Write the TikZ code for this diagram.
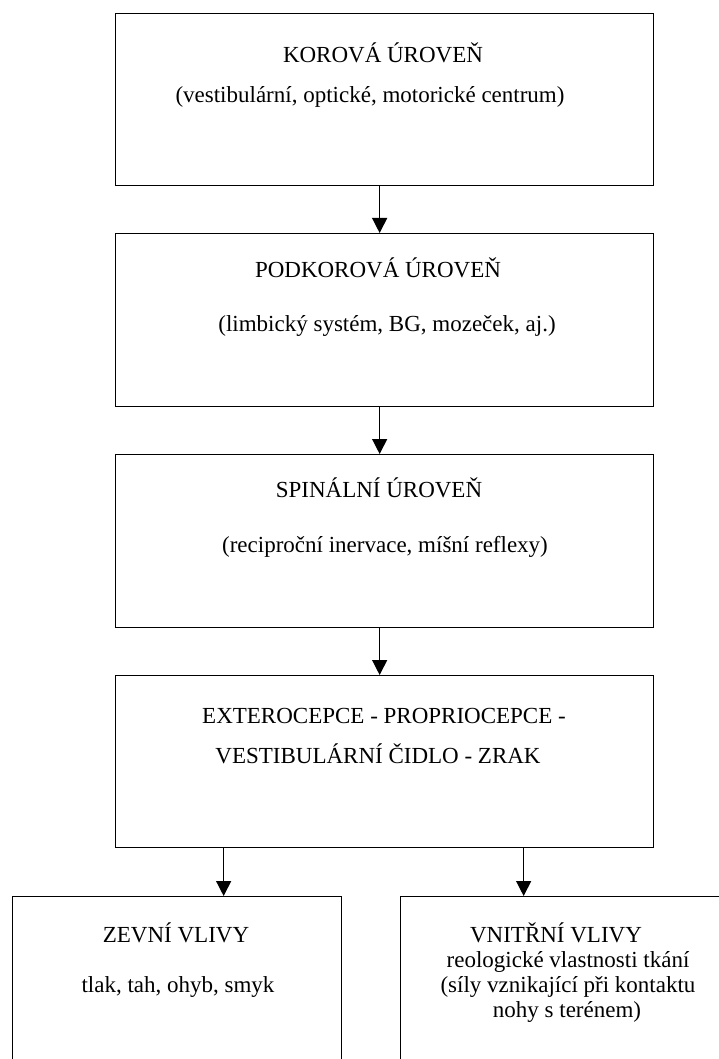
\documentclass[tikz,border=0pt]{standalone}
\usepackage{fontspec}
\setmainfont{Liberation Serif}
\usetikzlibrary{arrows.meta}
\tikzset{
  box/.style={draw, line width=1.3pt, rectangle, anchor=north west, inner sep=0pt},
  txt/.style={font=\fontsize{23}{25}\selectfont, inner sep=0pt, anchor=base},
  arr/.style={line width=1.3pt, -{Triangle[width=15pt,length=15pt]}}
}
\begin{document}
\begin{tikzpicture}[x=1pt,y=-1pt]
\useasboundingbox (0,0) rectangle (719,1059);
\clip (0,0) rectangle (719,1059);
% levels
\node[box, minimum width=538pt, minimum height=172pt] (korova) at (115,13) {};
\node[box, minimum width=538pt, minimum height=173pt] (podkorova) at (115,233) {};
\node[box, minimum width=538pt, minimum height=173pt] (spinalni) at (115,454) {};
\node[box, minimum width=538pt, minimum height=172pt] (cidla) at (115,675) {};
\node[box, minimum width=329pt, minimum height=200pt] (zevni) at (12,896) {};
\node[box, minimum width=340pt, minimum height=200pt] (vnitrni) at (400,896) {};
% texts
\node[txt] (korova-a) at (383,63) {KOROVÁ ÚROVEŇ};
\node[txt] (korova-b) at (370,103) {(vestibulární, optické, motorické centrum)};
\node[txt] (podkorova-a) at (378,277) {PODKOROVÁ ÚROVEŇ};
\node[txt] (podkorova-b) at (387,331) {(limbický systém, BG, mozeček, aj.)};
\node[txt] (spinalni-a) at (379,497) {SPINÁLNÍ ÚROVEŇ};
\node[txt] (spinalni-b) at (385,552) {(reciproční inervace, míšní reflexy)};
\node[txt] (cidla-a) at (384,723) {EXTEROCEPCE - PROPRIOCEPCE -};
\node[txt] (cidla-b) at (378,763) {VESTIBULÁRNÍ ČIDLO - ZRAK};
\node[txt] (zevni-a) at (176,942) {ZEVNÍ VLIVY};
\node[txt] (zevni-b) at (178,992) {tlak, tah, ohyb, smyk};
\node[txt] (vnitrni-a) at (556,942) {VNITŘNÍ VLIVY};
\node[txt] (vnitrni-b) at (568,967) {reologické vlastnosti tkání};
\node[txt] (vnitrni-c) at (568,992) {(síly vznikající při kontaktu};
\node[txt] (vnitrni-d) at (567,1017) {nohy s terénem)};
% arrows
\draw[arr] ([xshift=-5pt]korova.south) -- ([xshift=-5pt]podkorova.north);
\draw[arr] ([xshift=-5pt]podkorova.south) -- ([xshift=-5pt]spinalni.north);
\draw[arr] ([xshift=-5pt]spinalni.south) -- ([xshift=-5pt]cidla.north);
\draw[arr] ([xshift=-161pt]cidla.south) -- ([xshift=-161pt]cidla.south |- zevni.north);
\draw[arr] ([xshift=139pt]cidla.south) -- ([xshift=139pt]cidla.south |- vnitrni.north);
\end{tikzpicture}
\end{document}
